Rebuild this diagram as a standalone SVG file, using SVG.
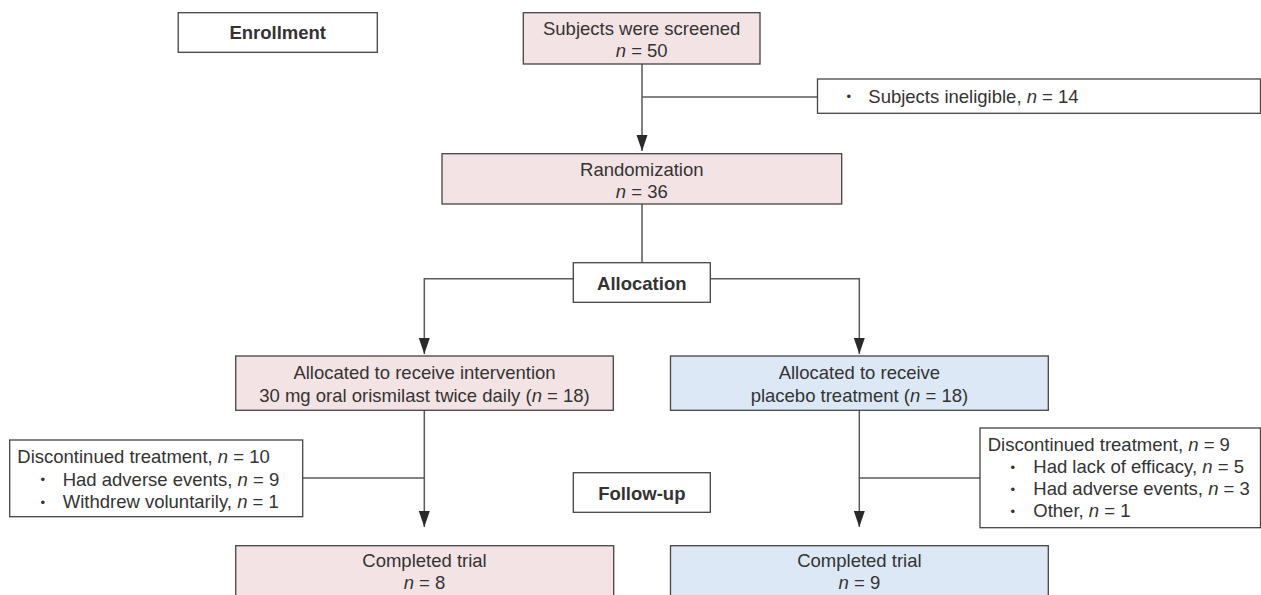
<svg xmlns="http://www.w3.org/2000/svg" width="1261" height="595" viewBox="0 0 1261 595">
<defs>
<marker id="ah" markerUnits="userSpaceOnUse" markerWidth="16" markerHeight="12" refX="16" refY="6" orient="auto">
<path d="M0,0.5 L16,6 L0,11.5 z" fill="#2a2a2a"/>
</marker>
<style>
.box{stroke:#444;stroke-width:1.3;fill:#fff}
.pink{fill:#f3e3e5}
.blue{fill:#dce8f5}
.t{font-family:"Liberation Sans",Arial,sans-serif;font-size:18.5px;fill:#333}
.c{text-anchor:middle}
.b{font-weight:bold}
.i{font-style:italic}
.bu{font-family:"Liberation Sans",Arial,sans-serif;font-size:13px;fill:#333}
.ln{stroke:#5a5a5a;stroke-width:1.5;fill:none}
</style>
</defs>
<rect width="1261" height="595" fill="#fff"/>
<g id="connectors">
<path class="ln" d="M642,64 V151" marker-end="url(#ah)"/>
<path class="ln" d="M642,97 H817.5"/>
<path class="ln" d="M642,204 V262.7"/>
<path class="ln" d="M573.3,278.7 H424.3 V354" marker-end="url(#ah)"/>
<path class="ln" d="M710.3,278.7 H859.3 V354" marker-end="url(#ah)"/>
<path class="ln" d="M424.3,410 V527" marker-end="url(#ah)"/>
<path class="ln" d="M302.7,478 H424.3"/>
<path class="ln" d="M859.3,410 V527" marker-end="url(#ah)"/>
<path class="ln" d="M859.3,478 H980"/>
</g>
<g id="enrollment">
<rect class="box" x="178.2" y="12.7" width="199.1" height="39.6"/>
<text class="t c b" x="277.7" y="39.3">Enrollment</text>
</g>
<g id="screened">
<rect class="box pink" x="523.3" y="12.7" width="236.7" height="51.3"/>
<text class="t c" x="641.7" y="35">Subjects were screened</text>
<text class="t c" x="641.7" y="57"><tspan class="i">n</tspan> = 50</text>
</g>
<g id="ineligible">
<rect class="box" x="817.5" y="79" width="443" height="34.3"/>
<text class="bu" x="846.5" y="101">•</text>
<text class="t" x="868.3" y="102.7">Subjects ineligible, <tspan class="i">n</tspan> = 14</text>
</g>
<g id="randomization">
<rect class="box pink" x="442" y="153.7" width="399.7" height="50.3"/>
<text class="t c" x="641.8" y="176">Randomization</text>
<text class="t c" x="641.8" y="198"><tspan class="i">n</tspan> = 36</text>
</g>
<g id="allocation">
<rect class="box" x="573.3" y="262.7" width="137" height="39.6"/>
<text class="t c b" x="641.8" y="290">Allocation</text>
</g>
<g id="intervention">
<rect class="box pink" x="235.7" y="356" width="377.6" height="54.3"/>
<text class="t c" x="424.5" y="379">Allocated to receive intervention</text>
<text class="t c" x="424.5" y="401.7">30 mg oral orismilast twice daily (<tspan class="i">n</tspan> = 18)</text>
</g>
<g id="placebo">
<rect class="box blue" x="670.5" y="356" width="377.8" height="54.3"/>
<text class="t c" x="859.4" y="379">Allocated to receive</text>
<text class="t c" x="859.4" y="401.7">placebo treatment (<tspan class="i">n</tspan> = 18)</text>
</g>
<g id="discontinued-left">
<rect class="box" x="9.7" y="440" width="293" height="76.7"/>
<text class="t" x="17.3" y="463.3">Discontinued treatment, <tspan class="i">n</tspan> = 10</text>
<text class="bu" x="40.5" y="484">•</text>
<text class="t" x="62.7" y="485.5">Had adverse events, <tspan class="i">n</tspan> = 9</text>
<text class="bu" x="40.5" y="506.8">•</text>
<text class="t" x="62.7" y="508.3">Withdrew voluntarily, <tspan class="i">n</tspan> = 1</text>
</g>
<g id="followup">
<rect class="box" x="573.3" y="472.7" width="137" height="39.6"/>
<text class="t c b" x="641.8" y="500">Follow-up</text>
</g>
<g id="discontinued-right">
<rect class="box" x="980" y="428" width="280.5" height="99.7"/>
<text class="t" x="987.7" y="451">Discontinued treatment, <tspan class="i">n</tspan> = 9</text>
<text class="bu" x="1010.5" y="471.5">•</text>
<text class="t" x="1033.3" y="473">Had lack of efficacy, <tspan class="i">n</tspan> = 5</text>
<text class="bu" x="1010.5" y="493.5">•</text>
<text class="t" x="1033.3" y="495">Had adverse events, <tspan class="i">n</tspan> = 3</text>
<text class="bu" x="1010.5" y="515.5">•</text>
<text class="t" x="1033.3" y="517">Other, <tspan class="i">n</tspan> = 1</text>
</g>
<g id="completed-left">
<rect class="box pink" x="235.7" y="545.7" width="378" height="60"/>
<text class="t c" x="424.5" y="566.7">Completed trial</text>
<text class="t c" x="424.5" y="589"><tspan class="i">n</tspan> = 8</text>
</g>
<g id="completed-right">
<rect class="box blue" x="670.5" y="545.7" width="377.8" height="60"/>
<text class="t c" x="859.4" y="566.7">Completed trial</text>
<text class="t c" x="859.4" y="589"><tspan class="i">n</tspan> = 9</text>
</g>
</svg>
